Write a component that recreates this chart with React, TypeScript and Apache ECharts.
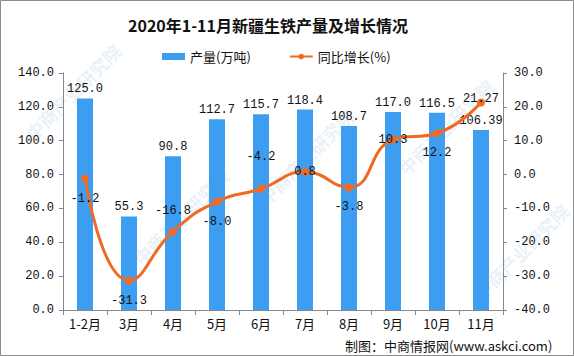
import React, { useEffect, useRef } from "react";
import * as echarts from "echarts";

const categories = ["1-2月", "3月", "4月", "5月", "6月", "7月", "8月", "9月", "10月", "11月"];
const output = [125.0, 55.3, 90.8, 112.7, 115.7, 118.4, 108.7, 117.0, 116.5, 106.39];
const growth = [-1.2, -31.3, -16.8, -8.0, -4.2, 0.8, -3.8, 10.3, 12.2, 21.27];
const growthLabelPos = ["bottom", "bottom", "top", "bottom", "top", "inside", "bottom", "inside", "bottom", "inside"];
const leftTicks = { min: 0, max: 140, interval: 20 };
const rightTicks = { min: -40, max: 30, interval: 10 };

const fmt = (v: number) => {
  const t = v * 10;
  return Math.abs(Math.round(t) - t) < 1e-9 ? v.toFixed(1) : String(v);
};

const MONO = "'Liberation Mono', 'DejaVu Sans Mono', monospace";
const CJK = "'Noto Sans CJK SC', sans-serif";

const watermarks = [
  [22, 130], [130, 255], [255, 195], [395, 165], [470, 290],
];

export default function App() {
  const ref = useRef<HTMLDivElement>(null);
  useEffect(() => {
    const chart = echarts.init(ref.current!, null, { renderer: "svg" });
    const graphic: any[] = [
      {
        type: "rect",
        shape: { x: 0.5, y: 0.5, width: 573, height: 355 },
        style: { fill: "none", stroke: "#8c8c8c", lineWidth: 1 },
        silent: true,
      },
      ...watermarks.map(([x, y]) => ({
        type: "text",
        x,
        y,
        rotation: Math.PI / 4,
        silent: true,
        z: -1,
        style: {
          text: "中商产业研究院",
          fill: "rgba(120,170,220,0.18)",
          font: "bold 18px 'Noto Sans CJK SC'",
        },
      })),
      {
        type: "text",
        left: 345,
        top: 339,
        style: {
          text: "制图：中商情报网(www.askci.com)",
          fill: "#111",
          font: "13px 'Noto Sans CJK SC'",
        },
      },
    ];
    chart.setOption({
      animation: false,
      backgroundColor: "#fff",
      title: {
        text: "2020年1-11月新疆生铁产量及增长情况",
        left: 123,
        top: 12,
        textStyle: { fontSize: 16, fontWeight: "bold", color: "#111", fontFamily: CJK },
      },
      legend: {
        left: 157,
        top: 45,
        itemWidth: 23,
        itemHeight: 7,
        itemGap: 38,
        textStyle: { fontSize: 13, color: "#111", fontFamily: CJK },
        data: [
          { name: "产量(万吨)", icon: "rect" },
          { name: "同比增长(%)" },
        ],
      },
      grid: { left: 63, right: 71, top: 73, bottom: 46 },
      xAxis: {
        type: "category",
        data: categories,
        axisLine: { lineStyle: { color: "#888" } },
        axisTick: { show: true, length: 5, lineStyle: { color: "#888" } },
        axisLabel: { color: "#111", fontSize: 13, fontFamily: CJK, margin: 7 },
      },
      yAxis: [
        {
          type: "value",
          ...leftTicks,
          axisLine: { show: true, lineStyle: { color: "#888" } },
          axisTick: { show: true, length: 4, lineStyle: { color: "#888" } },
          splitLine: { show: false },
          axisLabel: { color: "#111", fontSize: 12, fontFamily: MONO, margin: 9, formatter: (v: number) => v.toFixed(1) },
        },
        {
          type: "value",
          ...rightTicks,
          axisLine: { show: true, lineStyle: { color: "#888" } },
          axisTick: { show: true, length: 4, lineStyle: { color: "#888" } },
          splitLine: { show: false },
          axisLabel: { color: "#111", fontSize: 12, fontFamily: MONO, margin: 11, formatter: (v: number) => v.toFixed(1) },
        },
      ],
      series: [
        {
          name: "产量(万吨)",
          type: "bar",
          data: output,
          barWidth: 16,
          itemStyle: { color: "#3d9df0" },
          label: {
            show: true,
            position: "top",
            distance: 3,
            color: "#111",
            fontSize: 12,
            fontFamily: MONO,
            formatter: (p: any) => fmt(p.value),
          },
        },
        {
          name: "同比增长(%)",
          type: "line",
          yAxisIndex: 1,
          smooth: true,
          symbol: "circle",
          symbolSize: 8,
          lineStyle: { color: "#f26a21", width: 3 },
          itemStyle: { color: "#f26a21" },
          data: growth.map((v, i) => ({
            value: v,
            label: {
              position: growthLabelPos[i],
              distance: growthLabelPos[i] === "inside" ? 0 : 10,
              offset: i === 9 ? [0, -4] : i === 4 ? [0, -12] : [0, 0],
            },
          })),
          label: {
            show: true,
            color: "#111",
            fontSize: 12,
            fontFamily: MONO,
            formatter: (p: any) => fmt(p.value),
          },
          z: 3,
        },
      ],
      graphic,
    });
    return () => chart.dispose();
  }, []);
  return <div ref={ref} style={{ position: "absolute", left: 0, top: 0, width: 574, height: 356 }} />;
}
